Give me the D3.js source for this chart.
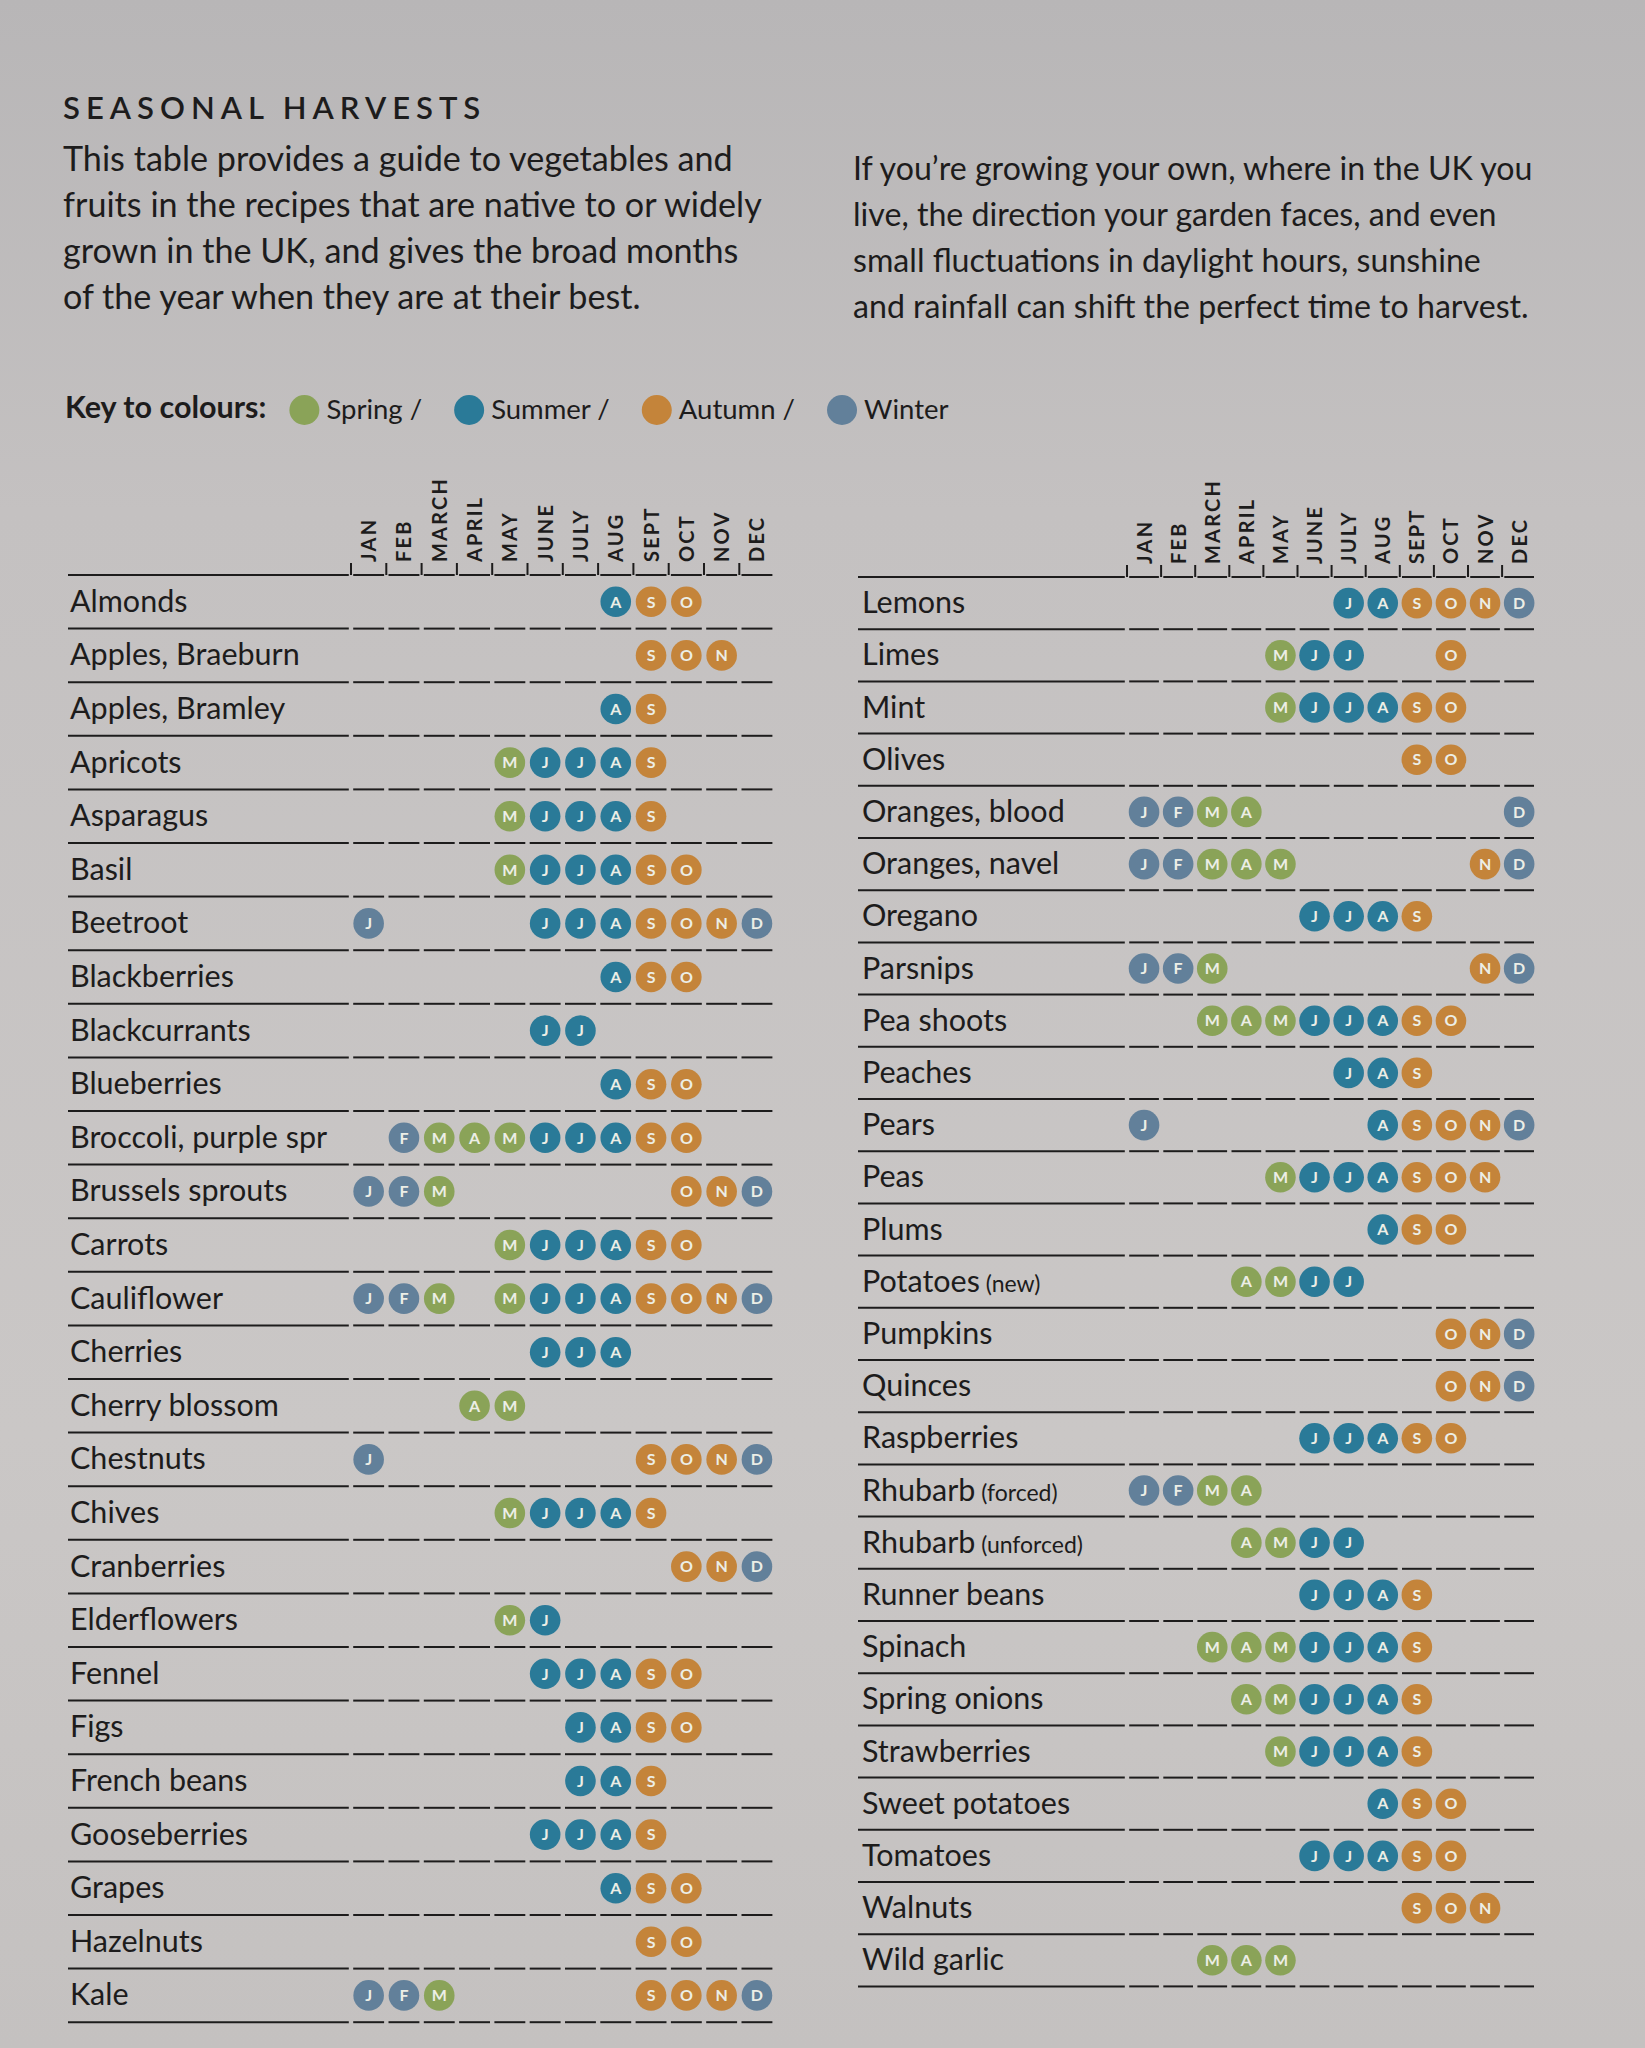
<!DOCTYPE html>
<html><head><meta charset="utf-8">
<script src="https://cdn.jsdelivr.net/npm/d3@7"></script>
<style>html,body{margin:0;padding:0;background:#c4c1c1;} svg{display:block}</style>
</head><body>
<script>
// ---------------- DATA ----------------
const months = ["JAN","FEB","MARCH","APRIL","MAY","JUNE","JULY","AUG","SEPT","OCT","NOV","DEC"];
const monthLetters = ["J","F","M","A","M","J","J","A","S","O","N","D"];
const monthSeason = ["Winter","Winter","Spring","Spring","Spring","Summer","Summer","Summer","Autumn","Autumn","Autumn","Winter"];
const seasons = ["Spring","Summer","Autumn","Winter"];
const seasonColors = ["#8aa358","#2a7a98","#c4843a","#62809a"];

const leftItems = ["Almonds","Apples, Braeburn","Apples, Bramley","Apricots","Asparagus","Basil","Beetroot","Blackberries","Blackcurrants","Blueberries","Broccoli, purple spr","Brussels sprouts","Carrots","Cauliflower","Cherries","Cherry blossom","Chestnuts","Chives","Cranberries","Elderflowers","Fennel","Figs","French beans","Gooseberries","Grapes","Hazelnuts","Kale"];
const leftMonths = [
  [7,8,9],[8,9,10],[7,8],[4,5,6,7,8],[4,5,6,7,8],[4,5,6,7,8,9],
  [0,5,6,7,8,9,10,11],[7,8,9],[5,6],[7,8,9],[1,2,3,4,5,6,7,8,9],
  [0,1,2,9,10,11],[4,5,6,7,8,9],[0,1,2,4,5,6,7,8,9,10,11],[5,6,7],
  [3,4],[0,8,9,10,11],[4,5,6,7,8],[9,10,11],[4,5],[5,6,7,8,9],
  [6,7,8,9],[6,7,8],[5,6,7,8],[7,8,9],[8,9],[0,1,2,8,9,10,11]
];
const rightItems = ["Lemons","Limes","Mint","Olives","Oranges, blood","Oranges, navel","Oregano","Parsnips","Pea shoots","Peaches","Pears","Peas","Plums","Potatoes (new)","Pumpkins","Quinces","Raspberries","Rhubarb (forced)","Rhubarb (unforced)","Runner beans","Spinach","Spring onions","Strawberries","Sweet potatoes","Tomatoes","Walnuts","Wild garlic"];
const rightMonths = [
  [6,7,8,9,10,11],[4,5,6,9],[4,5,6,7,8,9],[8,9],[0,1,2,3,11],
  [0,1,2,3,4,10,11],[5,6,7,8],[0,1,2,10,11],[2,3,4,5,6,7,8,9],
  [6,7,8],[0,7,8,9,10,11],[4,5,6,7,8,9,10],[7,8,9],[3,4,5,6],
  [9,10,11],[9,10,11],[5,6,7,8,9],[0,1,2,3],[3,4,5,6],[5,6,7,8],
  [2,3,4,5,6,7,8],[3,4,5,6,7,8],[4,5,6,7,8],[7,8,9],[5,6,7,8,9],
  [8,9,10],[2,3,4]
];

const title = "SEASONAL HARVESTS";
const introLeft = ["This table provides a guide to vegetables and","fruits in the recipes that are native to or widely","grown in the UK, and gives the broad months","of the year when they are at their best."];
const introRight = ["If you\u2019re growing your own, where in the UK you","live, the direction your garden faces, and even","small fluctuations in daylight hours, sunshine","and rainfall can shift the perfect time to harvest."];
const keyLabel = "Key to colours:";

// ---------------- DRAW ----------------
const W = 1645, H = 2048;
const FONT = "Lato, 'Noto Sans', sans-serif";
const INK = "#1d1c1c";
const color = d3.scaleOrdinal().domain(seasons).range(seasonColors);

const svg = d3.select("body").append("svg").attr("width", W).attr("height", H);
const defs = svg.append("defs");
const grad = defs.append("linearGradient").attr("id","bg").attr("x1",0).attr("y1",0).attr("x2",0).attr("y2",1);
grad.append("stop").attr("offset","0%").attr("stop-color","#b8b6b7");
grad.append("stop").attr("offset","25%").attr("stop-color","#c4c1c1");
grad.append("stop").attr("offset","70%").attr("stop-color","#cac7c6");
grad.append("stop").attr("offset","100%").attr("stop-color","#c4c1c0");
svg.append("rect").attr("width",W).attr("height",H).attr("fill","url(#bg)");

function fitSize(texts, base, target){
  const t = svg.append("text").attr("font-family",FONT).attr("font-size",base).text(texts);
  const w = t.node().getComputedTextLength(); t.remove();
  return base * target / w;
}

// title
svg.append("text").attr("x",63).attr("y",119)
  .attr("font-family",FONT).attr("font-size",31).attr("font-weight",600)
  .attr("letter-spacing",6).attr("fill",INK).text(title);

// paragraphs
const pSize = fitSize(introLeft[0], 32, 670);
svg.append("g").selectAll("text").data(introLeft).join("text")
  .attr("x",63).attr("y",(d,i)=>171 + i*46)
  .attr("font-family",FONT).attr("font-size",pSize).attr("fill",INK).text(d=>d);
const pSize2 = fitSize(introRight[0], 32, 680);
svg.append("g").selectAll("text").data(introRight).join("text")
  .attr("x",853).attr("y",(d,i)=>180 + i*46)
  .attr("font-family",FONT).attr("font-size",pSize2).attr("fill",INK).text(d=>d);

// key
const keyG = svg.append("g");
const kl = keyG.append("text").attr("x",65).attr("y",418).attr("font-family",FONT)
  .attr("font-size",30.5).attr("font-weight",700).attr("fill",INK).text(keyLabel);
let kx = 65 + kl.node().getComputedTextLength() + 23;
seasons.forEach((s,i)=>{
  keyG.append("circle").attr("cx",kx+15).attr("cy",410).attr("r",15).attr("fill",color(s));
  const t = keyG.append("text").attr("x",kx+37).attr("y",419).attr("font-family",FONT)
    .attr("font-size",27.5).attr("fill",INK).text(i<seasons.length-1 ? s+" /" : s);
  kx = kx + 37 + t.node().getComputedTextLength() + 32;
});

function drawTable(items, data, cfg){
  const g = svg.append("g");
  const x = d3.scaleBand().domain(d3.range(12)).range([cfg.colStart, cfg.colStart + 12*cfg.colW]);
  const y = d3.scaleBand().domain(items).range([cfg.ruleY, cfg.ruleY + items.length*cfg.rowH]);
  const gap = 2.2;
  // header month labels
  g.selectAll("text.month").data(months).join("text").attr("class","month")
    .attr("transform",(d,i)=>`translate(${x(i)+x.bandwidth()/2+7.5},${cfg.ruleY-13}) rotate(-90)`)
    .attr("font-family",FONT).attr("font-size",20).attr("font-weight",700)
    .attr("letter-spacing",2.2).attr("fill",INK).text(d=>d);
  // header ticks
  g.selectAll("line.tick").data(d3.range(12)).join("line").attr("class","tick")
    .attr("x1",i=>x(i)).attr("x2",i=>x(i)).attr("y1",cfg.ruleY-12).attr("y2",cfg.ruleY)
    .attr("stroke",INK).attr("stroke-width",2);
  // rule lines: header + row bottoms
  const lineYs = [cfg.ruleY].concat(items.map(d=>y(d)+y.bandwidth()));
  lineYs.forEach(ly=>{
    g.append("line").attr("x1",cfg.lineStart).attr("x2",x(0)-gap).attr("y1",ly).attr("y2",ly)
      .attr("stroke",INK).attr("stroke-width",2);
    g.selectAll(null).data(d3.range(12)).join("line")
      .attr("x1",i=>x(i)+gap).attr("x2",i=>x(i)+x.bandwidth()-gap).attr("y1",ly).attr("y2",ly)
      .attr("stroke",INK).attr("stroke-width",2);
  });
  // labels
  items.forEach(name=>{
    const m = name.match(/^(.*?)\s*(\(.*\))?$/);
    const t = g.append("text").attr("x",cfg.labelX).attr("y",y(name)+y.bandwidth()/2+10)
      .attr("font-family",FONT).attr("font-size",30.5).attr("fill",INK);
    t.append("tspan").text(m[1]);
    if (m[2]) t.append("tspan").attr("font-size",23).text(" "+m[2]);
  });
  // circles
  const pts = [];
  items.forEach((name,r)=>data[r].forEach(mi=>pts.push({name,mi})));
  const dots = g.selectAll("g.dot").data(pts).join("g").attr("class","dot")
    .attr("transform",d=>`translate(${x(d.mi)+x.bandwidth()/2},${y(d.name)+y.bandwidth()/2})`);
  dots.append("circle").attr("r",15.3).attr("fill",d=>color(monthSeason[d.mi]));
  dots.append("text").attr("text-anchor","middle").attr("dy","0.36em")
    .attr("font-family",FONT).attr("font-size",16).attr("font-weight",700)
    .attr("fill","#eceee6").text(d=>monthLetters[d.mi]);
}

drawTable(leftItems, leftMonths, {colStart:351, colW:35.3, ruleY:575, rowH:53.6, labelX:70, lineStart:68});
drawTable(rightItems, rightMonths, {colStart:1127, colW:34.1, ruleY:577, rowH:52.2, labelX:862, lineStart:858});
</script>
</body></html>
